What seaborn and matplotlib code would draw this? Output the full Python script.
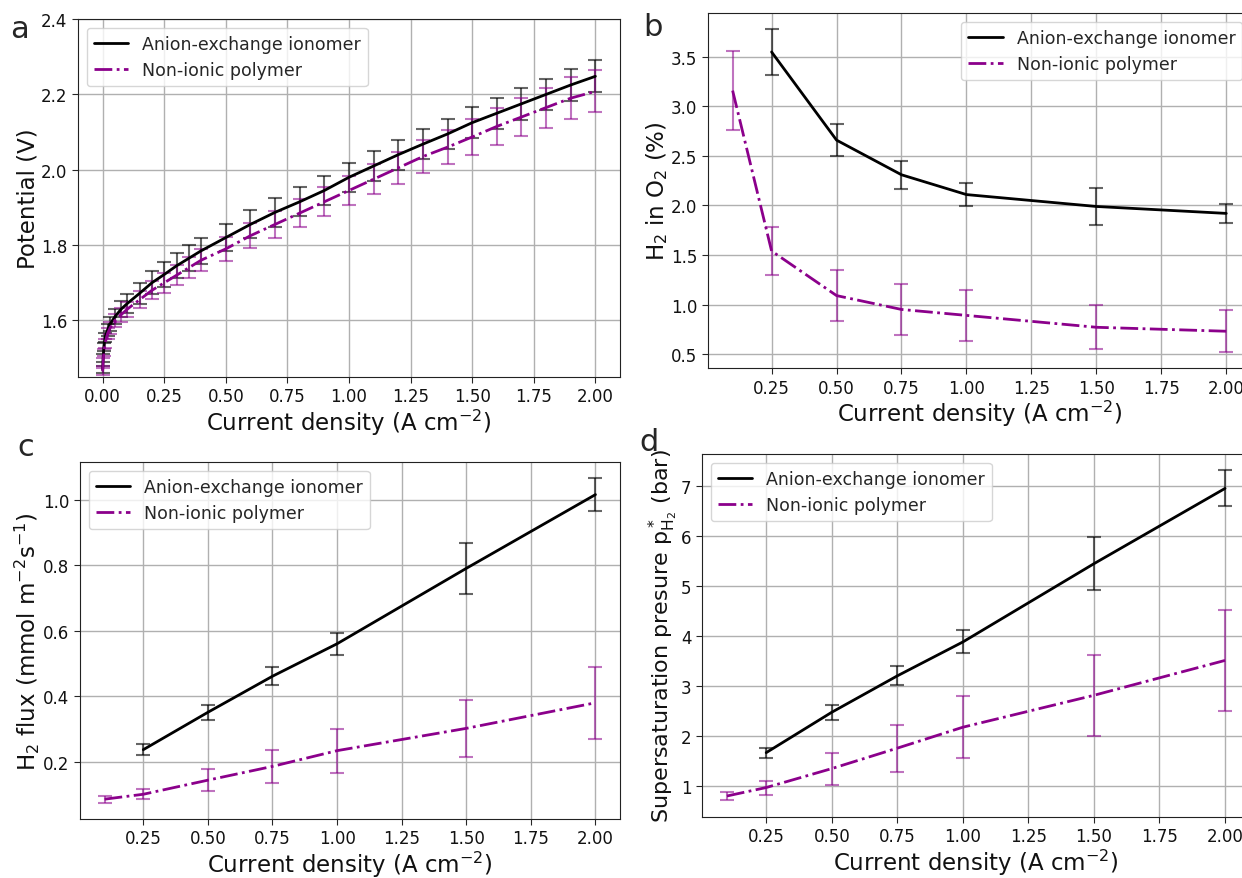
import matplotlib
matplotlib.use("Agg")
import matplotlib.pyplot as plt
import numpy as np
import seaborn as sns

sns.set_style("ticks")
plt.rcParams['font.family'] = ['DejaVu Sans']

# panel a - polarisation curves
j_a = [0, 0.002, 0.005, 0.01, 0.02, 0.03, 0.05, 0.075, 0.1, 0.15, 0.2, 0.25, 0.3, 0.35, 0.4,
       0.5, 0.6, 0.7, 0.8, 0.9, 1.0, 1.1, 1.2, 1.3, 1.4, 1.5, 1.6, 1.7, 1.8, 1.9, 2.0]
v_aei = [1.47, 1.50, 1.53, 1.555, 1.575, 1.59, 1.61, 1.63, 1.645, 1.672, 1.70, 1.722, 1.745, 1.765, 1.785,
         1.82, 1.855, 1.887, 1.915, 1.945, 1.98, 2.01, 2.04, 2.068, 2.095, 2.125, 2.15, 2.175, 2.20, 2.225, 2.248]
v_aei_err = [0.01, 0.01, 0.01, 0.012, 0.015, 0.018, 0.02, 0.022, 0.025, 0.028, 0.03, 0.032, 0.033, 0.034, 0.035,
             0.036, 0.037, 0.038, 0.038, 0.039, 0.039, 0.04, 0.04, 0.04, 0.041, 0.041, 0.041, 0.042, 0.042, 0.042, 0.042]
v_non = [1.465, 1.49, 1.515, 1.54, 1.565, 1.58, 1.60, 1.615, 1.63, 1.655, 1.68, 1.70, 1.72, 1.74, 1.76,
         1.79, 1.825, 1.855, 1.885, 1.915, 1.945, 1.975, 2.005, 2.035, 2.06, 2.087, 2.115, 2.14, 2.165, 2.19, 2.208]
v_non_err = [0.01, 0.01, 0.01, 0.012, 0.014, 0.015, 0.017, 0.018, 0.02, 0.022, 0.024, 0.026, 0.027, 0.028, 0.03,
             0.032, 0.034, 0.036, 0.037, 0.038, 0.038, 0.04, 0.042, 0.044, 0.046, 0.048, 0.05, 0.051, 0.053, 0.055, 0.056]

# panels b-d
j_aei = [0.25, 0.5, 0.75, 1.0, 1.5, 2.0]
j_non = [0.1, 0.25, 0.5, 0.75, 1.0, 1.5, 2.0]

h2o2_aei = [3.55, 2.66, 2.31, 2.11, 1.99, 1.92]
h2o2_aei_err = [0.23, 0.16, 0.14, 0.115, 0.19, 0.095]
h2o2_non = [3.16, 1.54, 1.09, 0.95, 0.89, 0.77, 0.73]
h2o2_non_err = [0.40, 0.24, 0.255, 0.26, 0.255, 0.22, 0.21]

flux_aei = [0.237, 0.351, 0.461, 0.56, 0.79, 1.015]
flux_aei_err = [0.016, 0.022, 0.028, 0.033, 0.077, 0.05]
flux_non = [0.086, 0.101, 0.144, 0.186, 0.234, 0.302, 0.38]
flux_non_err = [0.011, 0.015, 0.034, 0.051, 0.067, 0.087, 0.11]

psat_aei = [1.66, 2.47, 3.2, 3.88, 5.45, 6.96]
psat_aei_err = [0.1, 0.15, 0.19, 0.23, 0.53, 0.36]
psat_non = [0.79, 0.96, 1.34, 1.75, 2.17, 2.81, 3.51]
psat_non_err = [0.09, 0.14, 0.32, 0.47, 0.62, 0.81, 1.01]

black = 'black'
purple = '#8B008B'
xlab = r"Current density (A cm$^{-2}$)"

fig = plt.figure(figsize=(12.42, 8.79), dpi=100)
ax_a = fig.add_axes([0.0628, 0.570, 0.4364, 0.4072])
ax_b = fig.add_axes([0.570, 0.580, 0.4372, 0.404])
ax_c = fig.add_axes([0.0644, 0.0671, 0.4348, 0.4062])
ax_d = fig.add_axes([0.5652, 0.0694, 0.4412, 0.413])


def draw(ax, xa, ya, ea, xn, yn, en, capsize=5):
    ax.errorbar(xa, ya, yerr=ea, fmt='none', ecolor=black, alpha=0.6, capsize=capsize, elinewidth=1.5, capthick=1.5)
    ax.errorbar(xn, yn, yerr=en, fmt='none', ecolor=purple, alpha=0.55, capsize=capsize, elinewidth=1.5, capthick=1.5)
    sns.lineplot(x=xa, y=ya, ax=ax, color=black, lw=2, label="Anion-exchange ionomer")
    sns.lineplot(x=xn, y=yn, ax=ax, color=purple, lw=2, linestyle='-.', label="Non-ionic polymer")
    ax.grid(True, color='#b0b0b0', lw=1)
    ax.set_axisbelow(True)
    ax.tick_params(labelsize=12, length=4, labelcolor='#111111')
    for s in ax.spines.values():
        s.set_color('#222222')
    ax.set_xlabel(xlab, fontsize=16.5, labelpad=1, color='#111111')


draw(ax_a, j_a, v_aei, v_aei_err, j_a, v_non, v_non_err)
ax_a.set_ylim(1.45, 2.4)
ax_a.set_yticks([1.6, 1.8, 2.0, 2.2, 2.4])
ax_a.set_xticks(np.arange(0, 2.01, 0.25))
ax_a.set_ylabel("Potential (V)", fontsize=16.5, labelpad=1, color='#111111')
ax_a.legend(loc='upper left', fontsize=12.5)

draw(ax_b, j_aei, h2o2_aei, h2o2_aei_err, j_non, h2o2_non, h2o2_non_err)
ax_b.set_xticks(np.arange(0.25, 2.01, 0.25))
ax_b.set_yticks([0.5, 1.0, 1.5, 2.0, 2.5, 3.0, 3.5])
ax_b.set_ylabel(r"H$_2$ in O$_2$ (%)", fontsize=16.5, labelpad=1, color='#111111')
ax_b.legend(loc='upper right', fontsize=12.5)

draw(ax_c, j_aei, flux_aei, flux_aei_err, j_non, flux_non, flux_non_err)
ax_c.set_xticks(np.arange(0.25, 2.01, 0.25))
ax_c.set_yticks([0.2, 0.4, 0.6, 0.8, 1.0])
ax_c.set_ylabel(r"H$_2$ flux (mmol m$^{-2}$s$^{-1}$)", fontsize=16.5, labelpad=1, color='#111111')
ax_c.legend(loc='upper left', fontsize=12.5)

draw(ax_d, j_aei, psat_aei, psat_aei_err, j_non, psat_non, psat_non_err)
ax_d.set_xticks(np.arange(0.25, 2.01, 0.25))
ax_d.set_yticks([1, 2, 3, 4, 5, 6, 7])
ax_d.set_ylabel(r"Supersaturation presure p$^*_{\mathrm{H_2}}$ (bar)", fontsize=16, labelpad=1, color='#111111')
ax_d.legend(loc='upper left', fontsize=12.5)

for lab, x, y in [("a", 0.008, 0.967), ("b", 0.518, 0.969), ("c", 0.014, 0.491), ("d", 0.515, 0.497)]:
    fig.text(x, y, lab, fontsize=22, ha='left', va='center')

fig.savefig("out.png", dpi=100)
